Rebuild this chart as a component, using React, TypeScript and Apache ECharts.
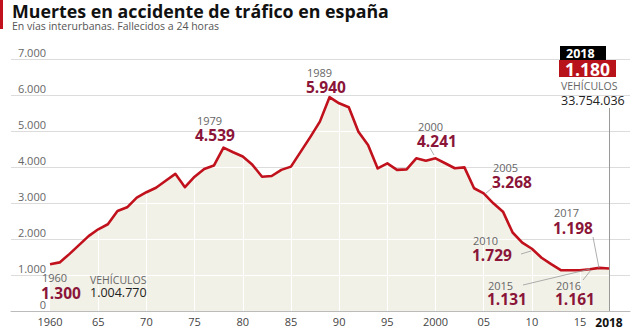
import React, { useEffect, useRef } from "react";
import * as echarts from "echarts";

const years = [
  1960, 1961, 1962, 1963, 1964, 1965, 1966, 1967, 1968, 1969,
  1970, 1971, 1972, 1973, 1974, 1975, 1976, 1977, 1978, 1979,
  1980, 1981, 1982, 1983, 1984, 1985, 1986, 1987, 1988, 1989,
  1990, 1991, 1992, 1993, 1994, 1995, 1996, 1997, 1998, 1999,
  2000, 2001, 2002, 2003, 2004, 2005, 2006, 2007, 2008, 2009,
  2010, 2011, 2012, 2013, 2014, 2015, 2016, 2017, 2018,
];
const deaths = [
  1300, 1350, 1580, 1830, 2080, 2270, 2410, 2780, 2880, 3150,
  3300, 3425, 3620, 3810, 3440, 3730, 3945, 4040, 4539, 4410,
  4290, 4060, 3730, 3750, 3920, 4010, 4420, 4830, 5260, 5940,
  5770, 5660, 4980, 4610, 3960, 4100, 3920, 3935, 4240, 4175,
  4241, 4105, 3965, 3990, 3410, 3268, 2990, 2760, 2180, 1900,
  1729, 1480, 1300, 1134, 1131, 1131, 1161, 1198, 1180,
];
const xTickValues = [1960, 1965, 1970, 1975, 1980, 1985, 1990, 1995, 2000, 2005, 2010, 2015, 2018];
const yLevels = [1000, 2000, 3000, 4000, 5000, 6000];
const lastYear = 2018;

const TITLE = "Muertes en accidente de tráfico en españa";
const SUBTITLE = "En vías interurbanas. Fallecidos a 24 horas";

const FONT = '"Open Sans", "Noto Sans", sans-serif';
const RED = "#c0111c";
const MAROON = "#8a1538";
const FILL = "#f2f1e8";

function whiteGrid() {
  const segs: any[] = [];
  for (const L of yLevels) {
    let start: number | null = null;
    for (let i = 0; i < years.length; i++) {
      const v = deaths[i];
      if (v >= L && start === null) {
        if (i === 0) start = years[0];
        else {
          const v0 = deaths[i - 1];
          start = years[i - 1] + (L - v0) / (v - v0);
        }
      } else if (v < L && start !== null) {
        const v0 = deaths[i - 1];
        const end = years[i - 1] + (v0 - L) / (v0 - v);
        segs.push([{ coord: [start, L] }, { coord: [end, L] }]);
        start = null;
      }
    }
    if (start !== null) segs.push([{ coord: [start, L] }, { coord: [years[years.length - 1], L] }]);
  }
  for (const t of xTickValues) {
    const idx = years.indexOf(t);
    if (t === 1960 || t === lastYear || idx < 0) continue;
    segs.push([{ coord: [t, 0] }, { coord: [t, deaths[idx]] }]);
  }
  return segs;
}

function txt(x: number, y: number, text: string, size: number, fill: string, weight: string = "normal", align: string = "left") {
  return {
    type: "text",
    x,
    y,
    silent: true,
    z: 20,
    style: {
      text,
      fill,
      font: `${weight} ${size}px ${FONT}`,
      lineHeight: Math.round(size * 0.9),
      align,
      verticalAlign: "middle",
    },
  };
}
function seg(x1: number, y1: number, x2: number, y2: number) {
  return {
    type: "line",
    silent: true,
    z: 20,
    shape: { x1, y1, x2, y2 },
    style: { stroke: "#999", lineWidth: 0.8 },
  };
}

export default function App() {
  const ref = useRef<HTMLDivElement>(null);
  useEffect(() => {
    if (!ref.current) return;
    const chart = echarts.init(ref.current, null, { renderer: "svg" });
    const data = years.map((y, i) => [y, deaths[i]]);
    const option: any = {
      animation: false,
      backgroundColor: "#fff",
      grid: { left: 11, right: 10, top: 59, bottom: 21, containLabel: false },
      xAxis: {
        type: "value",
        min: 1955.95,
        max: 2020.18,
        splitLine: { show: false },
        axisTick: { show: false },
        axisLine: { show: true, lineStyle: { color: "#bbb", width: 1 } },
        axisLabel: {
          customValues: xTickValues,
          showMinLabel: true,
          showMaxLabel: true,
          margin: 5,
          color: "#444",
          fontFamily: FONT,
          fontSize: 11,
          formatter: (v: number) => {
            if (v === 2018) return "{b|2018}";
            if (v === 1960 || v === 2000) return String(v);
            return String(v % 100).padStart(2, "0");
          },
          rich: { b: { fontWeight: "bold", color: "#111", fontSize: 12, fontFamily: FONT } },
        },
      },
      yAxis: {
        type: "value",
        min: 0,
        max: 7000,
        interval: 1000,
        axisLine: { show: false },
        axisTick: { show: false },
        splitLine: { show: true, lineStyle: { color: "#dcdcdc", width: 1 } },
        axisLabel: {
          inside: true,
          margin: 35,
          align: "right",
          verticalAlign: "bottom",
          padding: [0, 0, 1, 0],
          color: "#666",
          fontFamily: FONT,
          fontSize: 11,
          formatter: (v: number) => (v === 0 ? "0" : `${v / 1000}.000`),
        },
      },
      series: [
        {
          type: "line",
          data,
          symbol: "none",
          z: 2,
          lineStyle: { width: 0, opacity: 0 },
          areaStyle: { color: FILL, opacity: 1 },
          markLine: {
            silent: true,
            symbol: ["none", "none"],
            label: { show: false },
            lineStyle: { color: "#ffffff", width: 1, type: "solid" },
            emphasis: { disabled: true },
            data: whiteGrid(),
          },
        },
        {
          type: "line",
          data,
          symbol: "none",
          z: 5,
          lineStyle: { color: RED, width: 2.6, join: "round" },
          markLine: {
            silent: true,
            symbol: ["none", "none"],
            label: { show: false },
            lineStyle: { color: "#999", width: 1, type: "solid" },
            emphasis: { disabled: true },
            data: [[{ coord: [lastYear, 0] }, { coord: [lastYear, 5640] }]],
          },
        },
      ],
      graphic: [
        { type: "rect", shape: { x: 0, y: 0, width: 3, height: 29 }, style: { fill: RED }, silent: true },
        txt(12, 10.5, TITLE, 17.8, "#111", "bold"),
        txt(12, 25.5, SUBTITLE, 10.5, "#555"),
        // 1960
        txt(42, 277.5, "1960", 11, "#666"),
        txt(41, 292.5, "1.300", 15.5, MAROON, "bold"),
        txt(90, 279.5, "VEHÍCULOS", 10.5, "#666"),
        txt(90, 292.5, "1.004.770", 12.5, "#222"),
        // 1979
        txt(197, 120, "1979", 11, "#666"),
        txt(195, 134.5, "4.539", 15.5, MAROON, "bold"),
        // 1989
        txt(307, 72, "1989", 11, "#666"),
        txt(306, 87, "5.940", 15.5, MAROON, "bold"),
        // 2000
        txt(418, 126, "2000", 11, "#666"),
        txt(417, 141, "4.241", 15.5, MAROON, "bold"),
        seg(430, 148, 434, 155),
        // 2005
        txt(493, 167, "2005", 11, "#666"),
        txt(492, 182, "3.268", 15.5, MAROON, "bold"),
        seg(492, 188, 485, 194),
        // 2010
        txt(473, 240, "2010", 11, "#666"),
        txt(472, 255, "1.729", 15.5, MAROON, "bold"),
        seg(521, 254, 531, 251),
        // 2015
        txt(488, 285, "2015", 11, "#666"),
        txt(487, 299, "1.131", 15.5, MAROON, "bold"),
        seg(523, 285, 590, 269),
        // 2016
        txt(556, 285.5, "2016", 11, "#666"),
        txt(555, 299, "1.161", 15.5, MAROON, "bold"),
        seg(583, 280, 591, 270),
        // 2017
        txt(554, 212, "2017", 11, "#666"),
        txt(553, 228, "1.198", 15.5, MAROON, "bold"),
        seg(593, 237, 599, 268),
        // 2018 box
        { type: "rect", shape: { x: 560, y: 46, width: 46, height: 14 }, style: { fill: "#000" }, silent: true, z: 19 },
        { type: "rect", shape: { x: 559, y: 60, width: 57, height: 17 }, style: { fill: "#b8121b" }, silent: true, z: 19 },
        txt(566, 53.5, "2018", 12.5, "#fff", "bold"),
        txt(565, 68.5, "1.180", 17.5, "#fff", "bold"),
        txt(561, 86, "VEHÍCULOS", 10.5, "#666"),
        txt(561, 100, "33.754.036", 12.5, "#222"),
      ],
    };
    chart.setOption(option);
    return () => chart.dispose();
  }, []);
  return <div ref={ref} style={{ position: "fixed", left: 0, top: 0, width: 640, height: 332 }} />;
}
